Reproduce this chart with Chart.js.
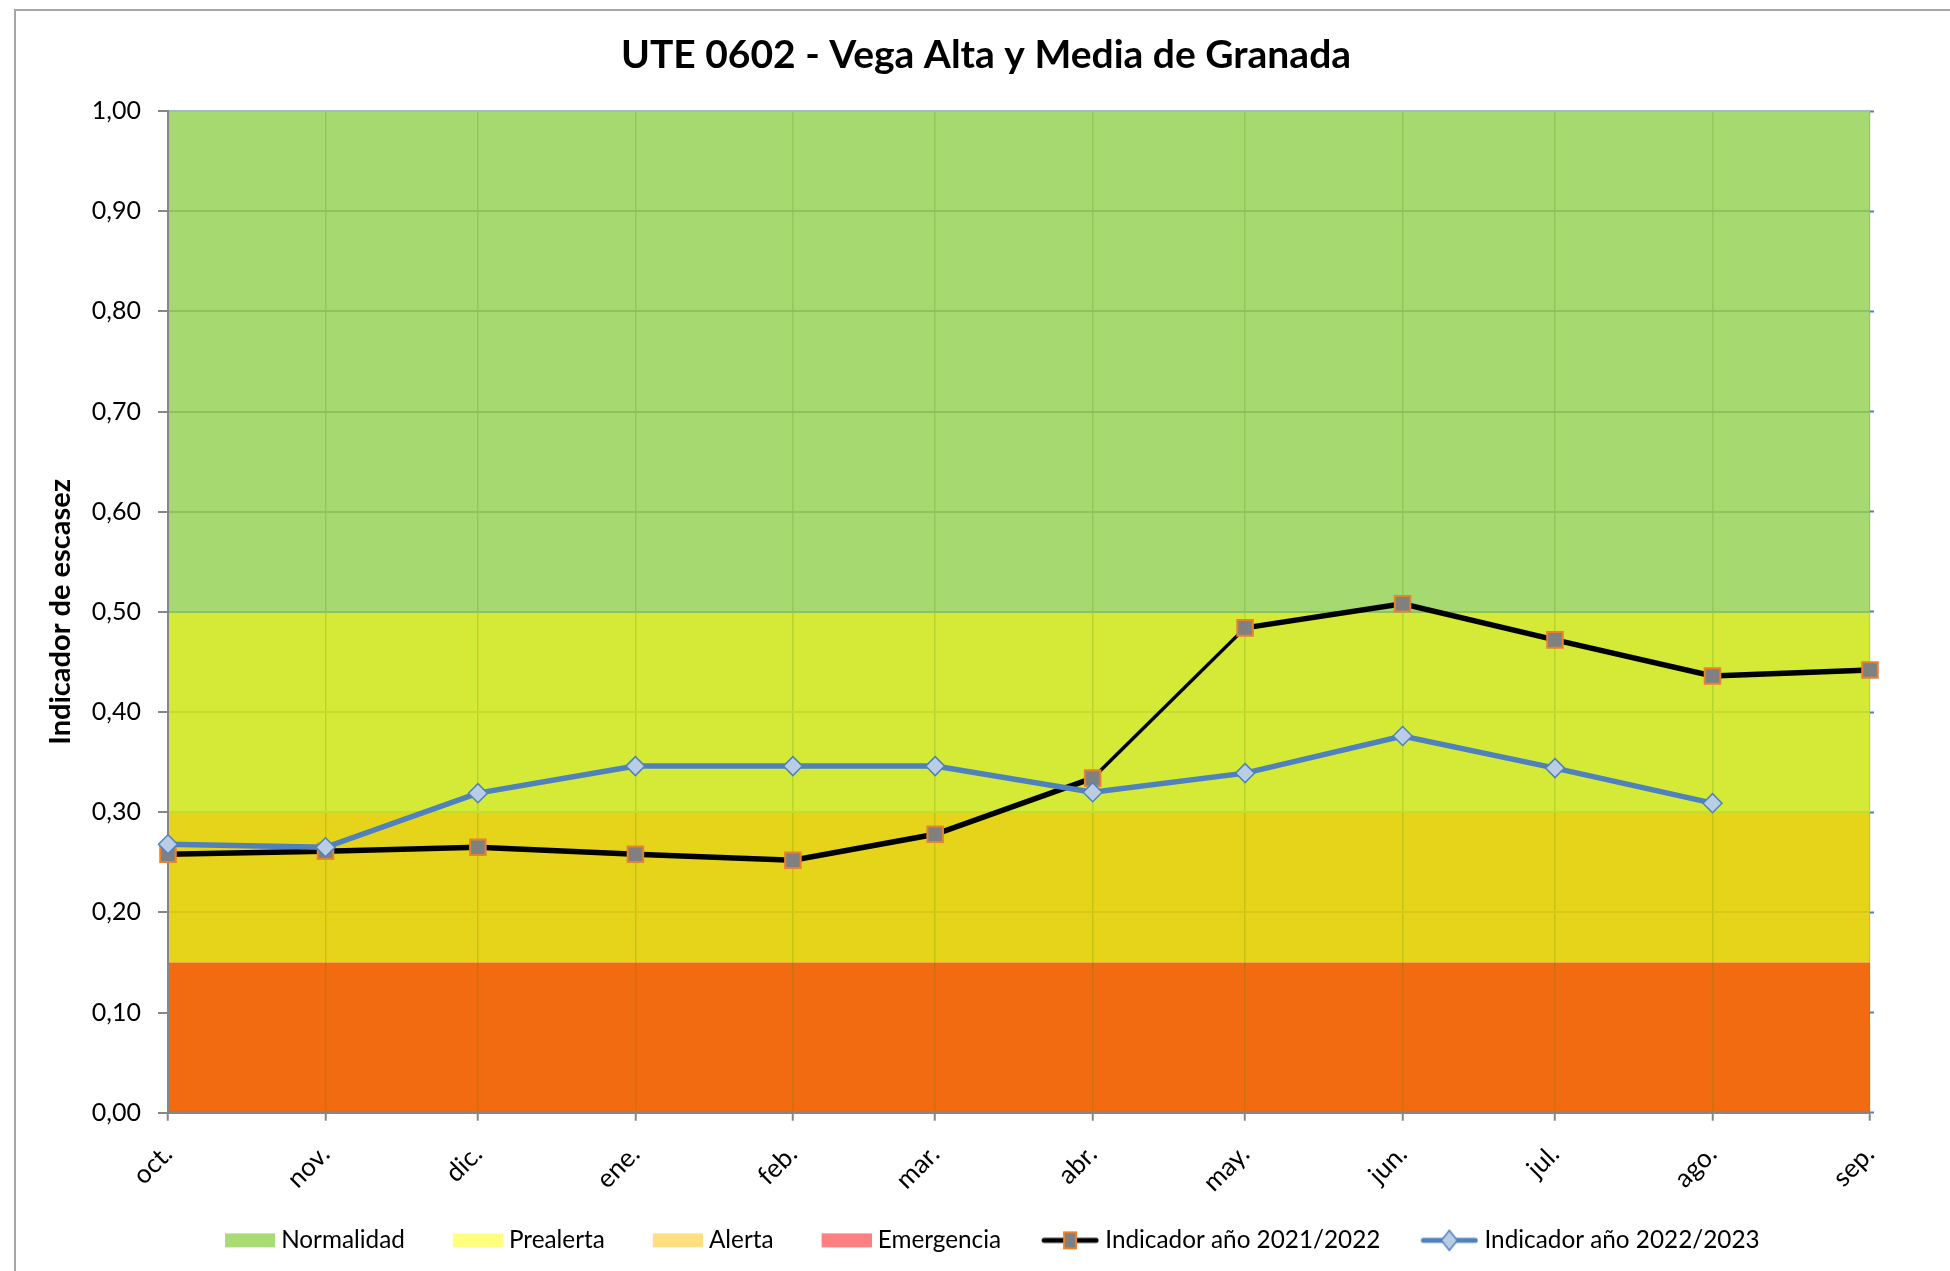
<!DOCTYPE html>
<html>
<head>
<meta charset="utf-8">
<script src="https://cdn.jsdelivr.net/npm/chart.js@4.4.1/dist/chart.umd.min.js"></script>
<style>
  html, body { margin: 0; padding: 0; background: #fff; }
  #wrap { width: 1950px; height: 1271px; position: relative; }
</style>
</head>
<body>
<div id="wrap"><canvas id="chart"></canvas></div>
<script>
// Hydrological year, one point per month (date axis, so spacing follows month length)
const months = ['oct.', 'nov.', 'dic.', 'ene.', 'feb.', 'mar.', 'abr.', 'may.', 'jun.', 'jul.', 'ago.', 'sep.'];
const monthDates = ['2021-10-01', '2021-11-01', '2021-12-01', '2022-01-01', '2022-02-01', '2022-03-01',
  '2022-04-01', '2022-05-01', '2022-06-01', '2022-07-01', '2022-08-01', '2022-09-01'];

const indicador2122 = [0.258, 0.261, 0.265, 0.258, 0.252, 0.278, 0.334, 0.484, 0.508, 0.472, 0.436, 0.442];
const indicador2223 = [0.268, 0.265, 0.319, 0.346, 0.346, 0.346, 0.320, 0.339, 0.376, 0.344, 0.309, null];

// Scarcity bands, bottom to top, with their upper limit
const bandNames = ['Emergencia', 'Alerta', 'Prealerta', 'Normalidad'];
const bandTops = [0.15, 0.30, 0.50, 1.00];
const bandFill = ['#F26B11', '#E6D41B', '#D4EA37', '#A7D971'];
const bandLegend = ['#FF8080', '#FFDF80', '#FFFF80', '#A9DC74'];

const yTicks = [0, 0.1, 0.2, 0.3, 0.4, 0.5, 0.6, 0.7, 0.8, 0.9, 1.0];
const yTickLabels = ['0,00', '0,10', '0,20', '0,30', '0,40', '0,50', '0,60', '0,70', '0,80', '0,90', '1,00'];

Chart.defaults.font.family = 'Lato';
Chart.defaults.color = '#000';

const t0 = Date.parse(monthDates[0]);
const days = monthDates.map(d => Math.round((Date.parse(d) - t0) / 86400000));
const toPoints = vals => vals.map((v, i) => ({ x: days[i], y: v }));

// legend swatches drawn as small canvases; they stick out 6px past the
// legend box on the right so the text sits close to them
const SW = 82;
const IMG_W = SW + 12;
function swatch(color) {
  const c = document.createElement('canvas');
  c.width = IMG_W; c.height = 16;
  const g = c.getContext('2d');
  g.fillStyle = color;
  g.fillRect(IMG_W - 50, 1, 50, 14);
  return c;
}
function lineSwatch(lineColor, marker) {
  const c = document.createElement('canvas');
  c.width = IMG_W; c.height = 28;
  const g = c.getContext('2d');
  g.strokeStyle = lineColor;
  g.lineWidth = 5;
  g.lineCap = 'round';
  g.beginPath(); g.moveTo(IMG_W - 55, 14); g.lineTo(IMG_W - 3, 14); g.stroke();
  const cx = IMG_W - 29;
  if (marker === 'rect') {
    g.fillStyle = '#808080'; g.strokeStyle = '#E9812F'; g.lineWidth = 2;
    g.fillRect(cx - 6, 6, 12, 16); g.strokeRect(cx - 6, 6, 12, 16);
  } else {
    g.fillStyle = '#B9CDE5'; g.strokeStyle = '#4F81BD'; g.lineWidth = 1.5;
    g.beginPath(); g.moveTo(cx, 4); g.lineTo(cx + 8, 14); g.lineTo(cx, 24); g.lineTo(cx - 8, 14); g.closePath();
    g.fill(); g.stroke();
  }
  return c;
}

const bandDatasets = bandNames.map((name, i) => ({
  label: name,
  data: [{ x: days[0], y: bandTops[i] }, { x: days[days.length - 1], y: bandTops[i] }],
  backgroundColor: bandFill[i],
  borderWidth: 0,
  pointRadius: 0,
  fill: i === 0 ? 'origin' : '-1'
}));

const datasets = [
  {
    label: 'Indicador año 2022/2023',
    data: toPoints(indicador2223),
    borderColor: '#4F81BD',
    borderWidth: 5.5,
    pointStyle: 'rectRot',
    pointRadius: 9.5,
    pointBackgroundColor: '#B9CDE5',
    pointBorderColor: '#4F81BD',
    pointBorderWidth: 1.5,
    fill: false,
    clip: false
  },
  {
    label: 'Indicador año 2021/2022',
    data: toPoints(indicador2122),
    borderColor: '#000',
    borderWidth: 5.5,
    segment: { borderWidth: ctx => (ctx.p0DataIndex === 6 ? 3.5 : 5.5) },
    pointStyle: 'rect',
    pointRadius: 11,
    pointBackgroundColor: '#808080',
    pointBorderColor: '#E9812F',
    pointBorderWidth: 2,
    fill: false,
    clip: false
  },
  ...bandDatasets
];

const legendItems = [
  ...bandNames.map((n, i) => ({ text: n, img: swatch(bandLegend[i]), idx: 2 + i })).reverse(),
  { text: 'Indicador año 2021/2022', img: lineSwatch('#000', 'rect'), idx: 1 },
  { text: 'Indicador año 2022/2023', img: lineSwatch('#4F81BD', 'diamond'), idx: 0 }
];

const frame = {
  id: 'frame',
  beforeDraw(chart) {
    const c = chart.ctx;
    c.save();
    c.strokeStyle = '#A6A6A6';
    c.lineWidth = 2;
    c.strokeRect(15, 10, 2400, 2400);
    c.restore();
  },
  // nudge the legend row a little to the right
  afterLayout(chart) {
    if (chart.legend) chart.legend.left += 9;
  }
};

function yGridColor(ctx) {
  const v = ctx.tick ? ctx.tick.value : 0;
  if (v > 0.99) return '#A3B7CE';
  if (v > 0.499) return '#8CC35B';
  if (v > 0.299) return '#C3DD2C';
  if (v > 0.15) return '#D9C716';
  return 'rgba(0,0,0,0)';
}

new Chart(document.getElementById('chart'), {
  type: 'line',
  data: { datasets },
  plugins: [frame],
  options: {
    responsive: true,
    maintainAspectRatio: false,
    animation: false,
    layout: { padding: { left: 22, right: 0, top: 0, bottom: 8.5 } },
    plugins: {
      filler: { drawTime: 'beforeDraw' },
      tooltip: { enabled: false },
      title: {
        display: true,
        text: 'UTE 0602 - Vega Alta y Media de Granada',
        color: '#000',
        font: { size: 39, weight: 'bold' },
        padding: { top: 31.6, bottom: 32.6 }
      },
      legend: {
        position: 'bottom',
        align: 'start',
        fullSize: false,
        labels: {
          usePointStyle: true,
          pointStyleWidth: SW,
          padding: 10,
          color: '#111',
          font: { size: 24.3 },
          generateLabels: () => legendItems.map(it => ({
            text: it.text,
            pointStyle: it.img,
            fillStyle: 'transparent',
            strokeStyle: 'transparent',
            lineWidth: 0,
            hidden: false,
            datasetIndex: it.idx
          }))
        }
      }
    },
    scales: {
      x: {
        type: 'linear',
        min: days[0],
        max: days[days.length - 1],
        afterBuildTicks: s => { s.ticks = days.map(v => ({ value: v })); },
        afterFit: s => { s.height = 105.5; },
        grid: {
          color: 'rgba(70,130,0,0.2)',
          lineWidth: 1.5,
          tickColor: '#868686',
          tickLength: 8,
          tickWidth: 2
        },
        border: { color: '#868686', width: 3 },
        ticks: {
          autoSkip: false,
          minRotation: 45,
          maxRotation: 45,
          padding: 18,
          font: { size: 26 },
          callback: (v, i) => months[i]
        }
      },
      y: {
        min: 0,
        max: 1,
        afterBuildTicks: s => { s.ticks = yTicks.map(v => ({ value: v })); },
        afterFit: s => { s.width = 146; },
        grid: {
          color: yGridColor,
          lineWidth: 2,
          tickColor: '#868686',
          tickLength: 10,
          tickWidth: 2
        },
        border: { color: '#868686', width: 2 },
        ticks: {
          padding: 17,
          font: { size: 25 },
          callback: (v, i) => yTickLabels[i]
        },
        title: {
          display: true,
          text: 'Indicador de escasez',
          color: '#000',
          font: { size: 29, weight: 'bold' },
          padding: { top: 21, bottom: 0 }
        }
      },
      y2: {
        position: 'right',
        min: 0,
        max: 1,
        afterBuildTicks: s => { s.ticks = yTicks.map(v => ({ value: v })); },
        afterFit: s => { s.width = 80; },
        grid: { drawOnChartArea: false, tickLength: 4, tickWidth: 2, tickColor: '#4F81BD' },
        border: { display: false },
        ticks: { display: false }
      }
    }
  }
});
</script>
</body>
</html>
